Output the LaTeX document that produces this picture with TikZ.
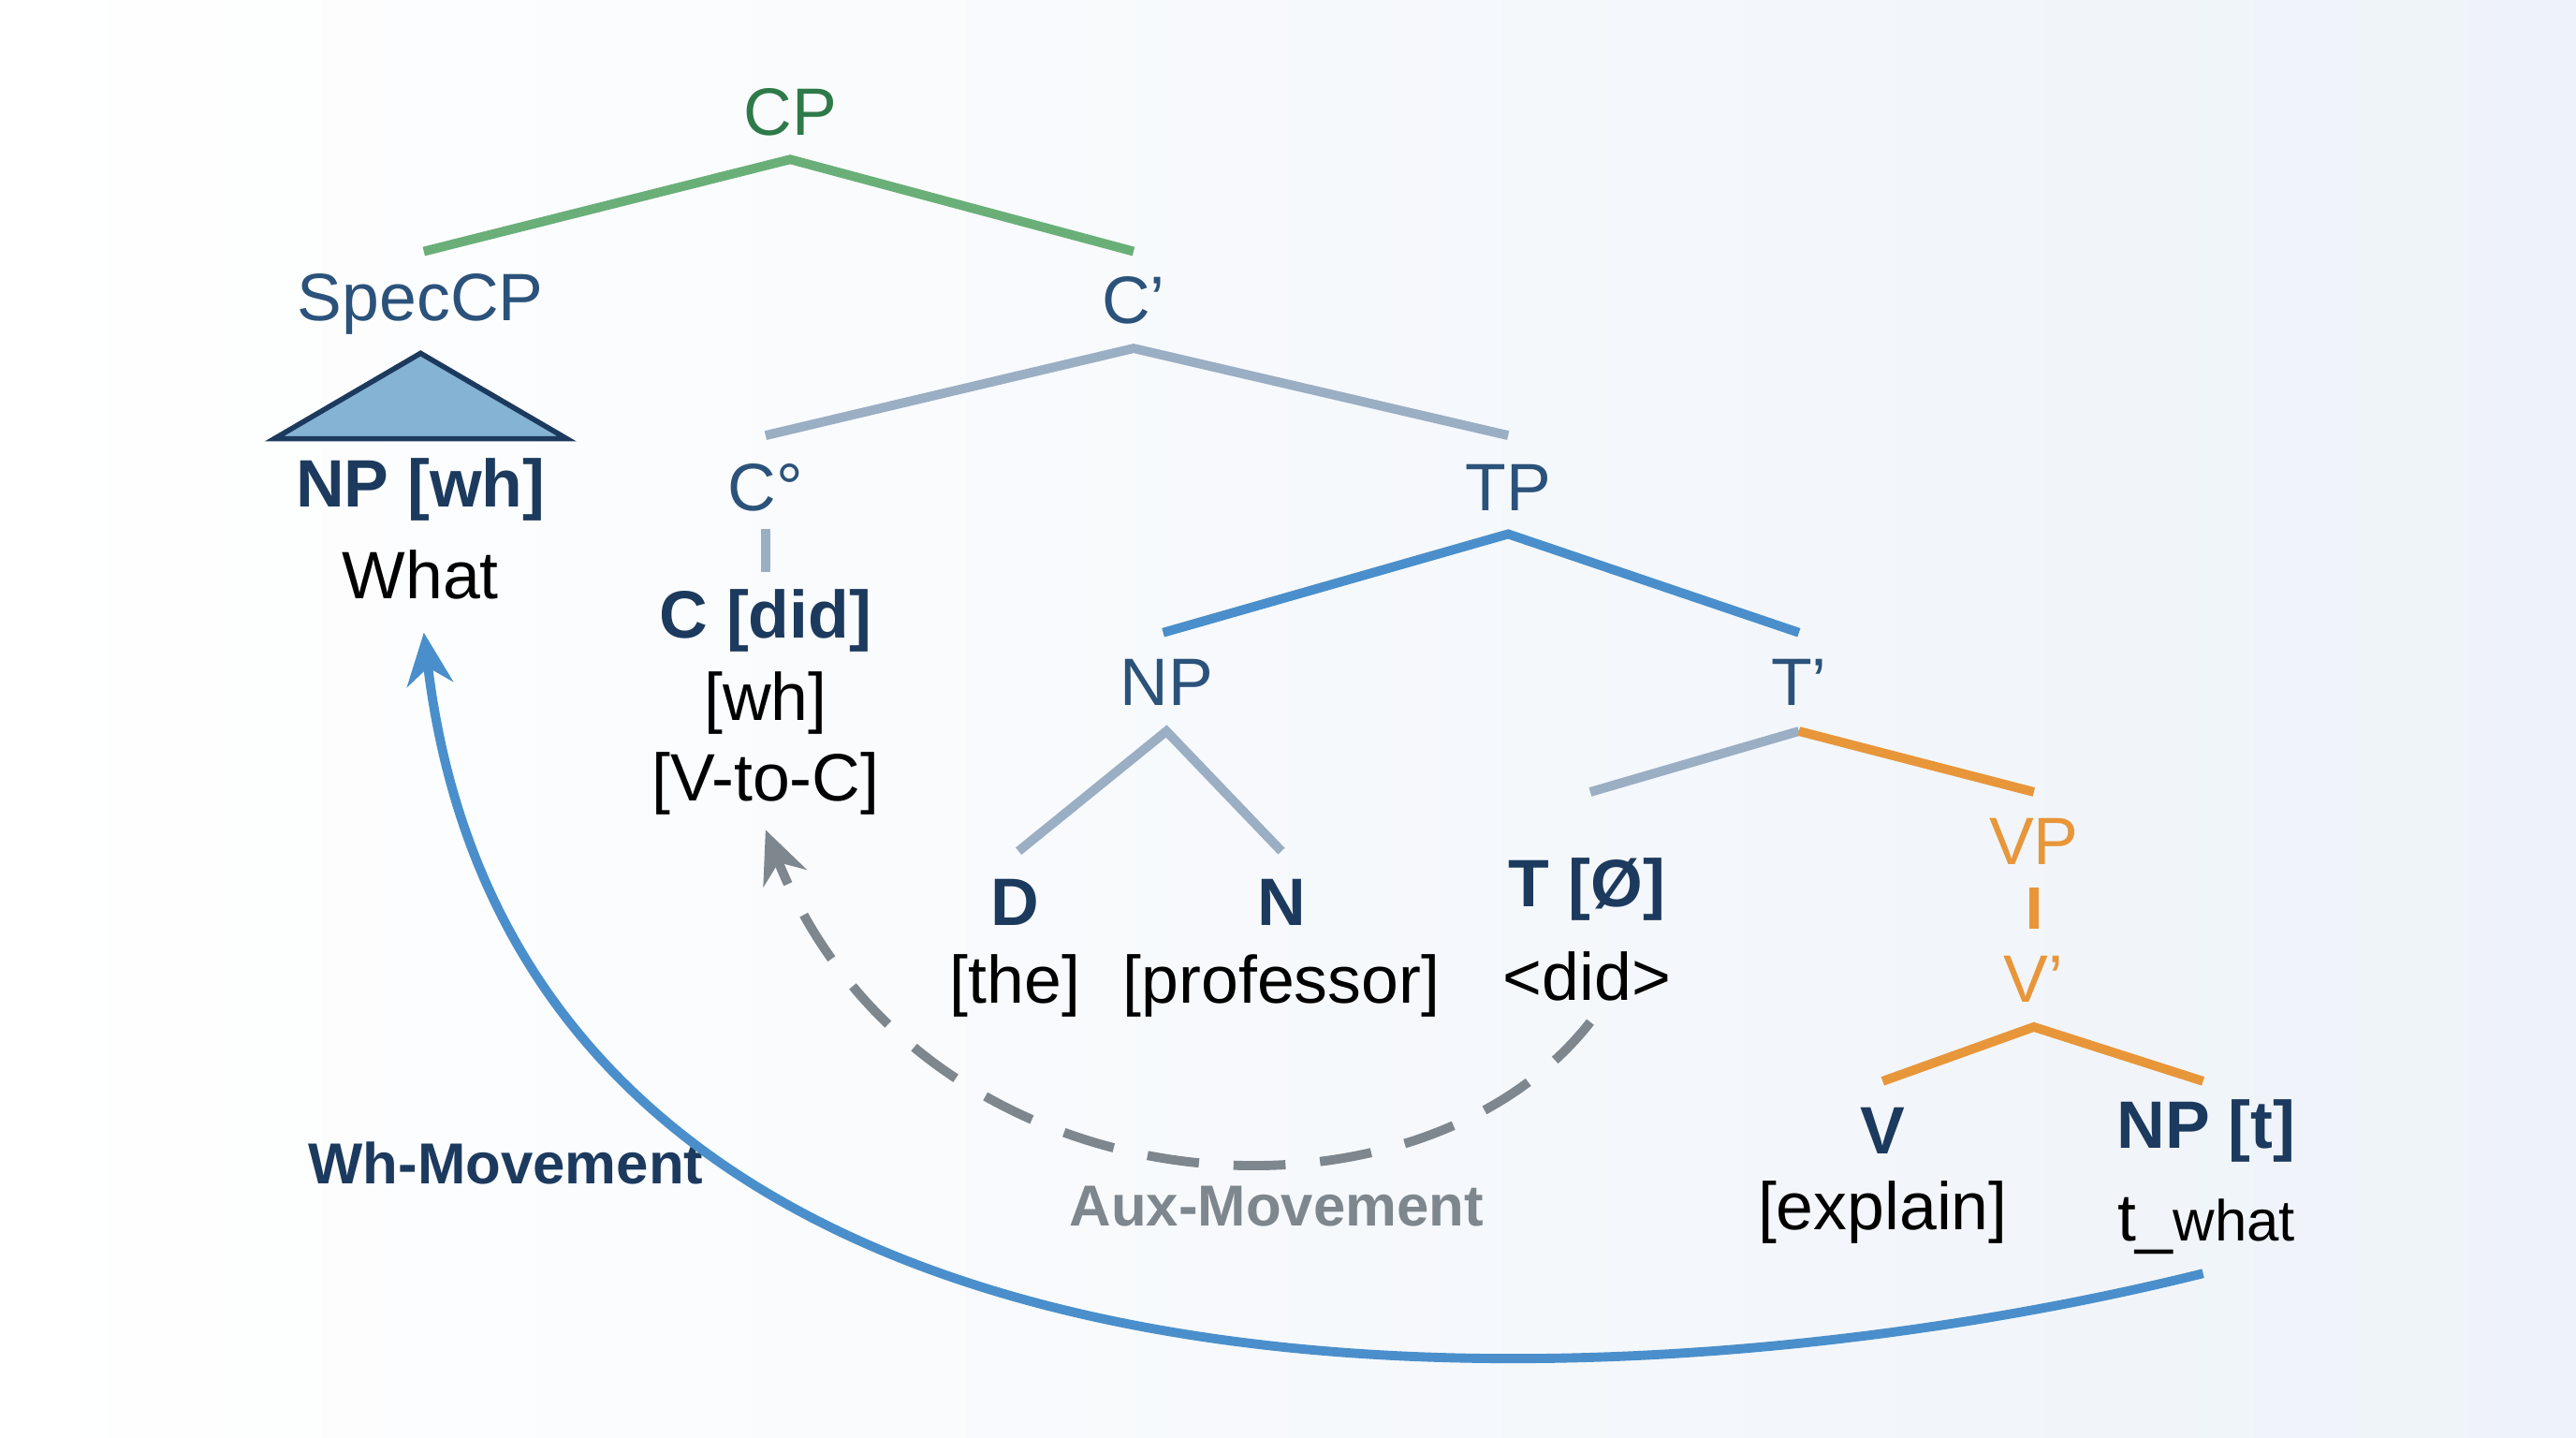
\documentclass[tikz,border=0pt]{standalone}
\usepackage{fontspec}
\setmainfont{Liberation Sans}
\usetikzlibrary{arrows.meta}
\definecolor{cpgreen}{HTML}{2E7A48}
\definecolor{linegreen}{HTML}{6AAF78}
\definecolor{navy}{HTML}{1C3A5E}
\definecolor{labblue}{HTML}{2B527A}
\definecolor{greyblue}{HTML}{9AAEC4}
\definecolor{midblue}{HTML}{4A8FCB}
\definecolor{orng}{HTML}{E8963A}
\definecolor{dgrey}{HTML}{7E868E}
\definecolor{trifill}{HTML}{85B3D3}
\definecolor{bgblue}{HTML}{EEF3F9}
\begin{document}
\begin{tikzpicture}[x=0.01cm,y=-0.01cm,
                    every node/.style={font=\fontsize{11.6}{14}\selectfont,inner sep=0pt},
                    cat/.style={text=labblue},
                    head/.style={text=navy,font=\fontsize{11.6}{14}\selectfont\bfseries},
                    word/.style={text=black},
                    branch/.style={line width=1.6pt},
                    move/.style={line width=1.6pt,-{Stealth[length=9pt,width=8pt]}}]
  \shade[left color=white,right color=bgblue] (0,0) rectangle (1568,875);
  \useasboundingbox (0,0) rectangle (1568,875);
  % labels
  \node[text=cpgreen] (cp)     at (481,68)  {CP};
  \node[cat]          (spec)   at (256,185) {SpecCP};
  \node[cat]          (cbar)   at (690,183) {C’};
  \node[head]         (npwh)   at (256,298) {NP [wh]};
  \node[word]         (what)   at (256,350) {What};
  \node[cat]          (c0)     at (466,297) {C°};
  \node[head]         (cdid)   at (466,378) {C [did]};
  \node[word]         (cwh)    at (466,428) {[wh]};
  \node[word]         (vtoc)   at (466,477) {[V-to-C]};
  \node[cat]          (tp)     at (918,297) {TP};
  \node[cat]          (np)     at (710,415) {NP};
  \node[cat]          (tbar)   at (1095,415) {T’};
  \node[head]         (d)      at (618,549) {D};
  \node[word]         (the)    at (618,600) {[the]};
  \node[head]         (n)      at (780,549) {N};
  \node[word]         (prof)   at (780,600) {[professor]};
  \node[head]         (t)      at (966,541) {T [Ø]};
  \node[word]         (did)    at (966,594) {<did>};
  \node[text=orng]    (vp)     at (1238,512) {VP};
  \node[text=orng]    (vbar)   at (1238,596) {V’};
  \node[head]         (v)      at (1146,688) {V};
  \node[word]         (expl)   at (1146,738) {[explain]};
  \node[head]         (npt)    at (1343,688) {NP [t]};
  \node[word]         (trace)  at (1343,746) {t\_{\fontsize{10}{12}\selectfont what}};
  \node[text=navy,font=\fontsize{10}{12}\selectfont\bfseries] (whlab) at (308,708) {Wh-Movement};
  \node[text=dgrey,font=\fontsize{10}{12}\selectfont\bfseries] (auxlab) at (777,734) {Aux-Movement};
  % branches
  \coordinate (cpb) at (481,97);
  \draw[branch,linegreen] (258,153) -- (cpb) -- (690,153);
  \coordinate (cbarb) at (690,212);
  \draw[branch,greyblue] (466,265) -- (cbarb) -- (918,265);
  \draw[branch,greyblue] (466,322) -- (466,348);
  \coordinate (tpb) at (918,325);
  \draw[branch,midblue] (708,385) -- (tpb) -- (1095,385);
  \coordinate (npb) at (710,445);
  \draw[branch,greyblue] (620,518) -- (npb) -- (780,518);
  \coordinate (tbarb) at (1095,445);
  \draw[branch,greyblue] (968,482) -- (tbarb);
  \draw[branch,orng] (tbarb) -- (1238,482);
  \draw[branch,orng] (1238,540) -- (1238,565);
  \coordinate (vbarb) at (1238,625);
  \draw[branch,orng] (1146,658) -- (vbarb) -- (1341,658);
  \draw[fill=trifill,draw=navy,line width=0.9pt] (256,215) -- (167,267) -- (345,267) -- cycle;
  % movements
  \coordinate (whsrc) at (1341,775);
  \coordinate (whtgt) at (258,385);
  \draw[move,midblue] (whsrc) .. controls (1000,860) and (320,900) .. (whtgt);
  \coordinate (auxsrc) at (968,622);
  \coordinate (auxtgt) at (466,505);
  \draw[move,dgrey,dash pattern=on 9pt off 6pt] (auxsrc) .. controls (860,760) and (560,740) .. (auxtgt);
\end{tikzpicture}
\end{document}
